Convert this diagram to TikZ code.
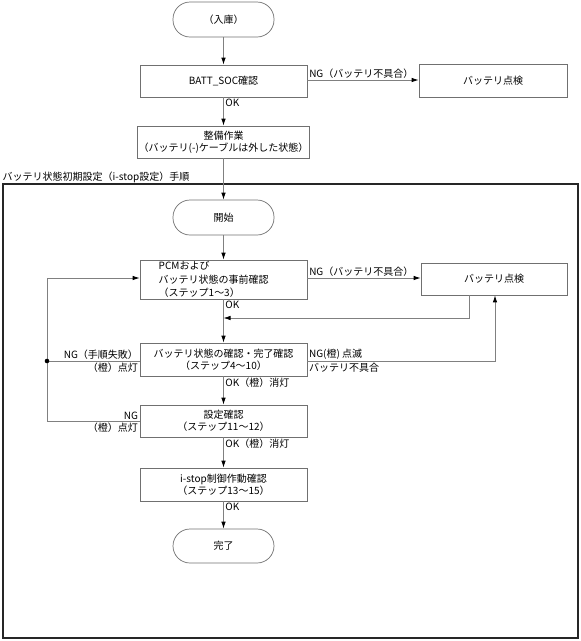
\documentclass[tikz,border=0pt]{standalone}
\usepackage{fontspec}
\setmainfont{Noto Sans CJK JP}
\usetikzlibrary{positioning,arrows.meta}
\definecolor{BoxGray}{HTML}{707070}
\definecolor{LineGray}{HTML}{808080}

\tikzset{
  procbox/.style={draw=BoxGray, line width=0.7pt, minimum width=167pt, minimum height=32pt,
    align=center, inner sep=1pt, font=\fontsize{10}{12}\selectfont},
  termbox/.style={draw=BoxGray, line width=0.7pt, rounded corners=17pt, minimum width=101pt,
    minimum height=35pt, font=\fontsize{10}{12}\selectfont},
  flow/.style={draw=LineGray, line width=0.8pt, -{Latex[length=7pt,width=4.5pt,color=black]}},
  conn/.style={draw=LineGray, line width=0.8pt},
  lbl/.style={font=\fontsize{10}{12}\selectfont, inner sep=1.5pt}
}

\begin{document}
\begin{tikzpicture}[x=1pt, y=-1pt]
    \useasboundingbox (0,0) rectangle (581,641);

    % upper part
    \node[termbox] (nyuko) at (223.5,19.5) {（入庫）};
    \node[procbox] (soc) at (223.5,81) {BATT\_SOC確認};
    \node[procbox, minimum width=148pt, minimum height=33pt] (check1) at (493,80.5) {バッテリ点検};
    \node[procbox] (seibi) at (223.5,142) {整備作業\\（バッテリ(-)ケーブルは外した状態）};

    % frame
    \draw[line width=1.5pt, black!85] (3,184) rectangle (578,638);
    \node[lbl, anchor=south west, inner sep=0.5pt] (framelbl) at (2,183) {バッテリ状態初期設定（i-stop設定）手順};

    % procedure
    \node[termbox] (kaishi) at (223.5,217.5) {開始};
    \node[procbox, minimum height=39pt] (pcm) at (223.5,279.5) {};
    \node[lbl, anchor=west, align=left, font=\fontsize{10}{13.5}\selectfont] (pcmtext) at (157,279.5)
      {PCMおよび\\バッテリ状態の事前確認\\（ステップ1〜3）};
    \node[procbox, minimum width=146pt] (check2) at (494,279) {バッテリ点検};
    \node[procbox, minimum height=33pt] (kakunin) at (223.5,359.5) {バッテリ状態の確認・完了確認\\（ステップ4〜10）};
    \node[procbox] (settei) at (223.5,421) {設定確認\\（ステップ11〜12）};
    \node[procbox, minimum height=33pt] (istop) at (223.5,484.5) {i-stop制御作動確認\\（ステップ13〜15）};
    \node[termbox, minimum height=34pt] (kanryo) at (223.5,546) {完了};

    % helper points
    \coordinate (jn) at (47,361);
    \coordinate (back) at (469,318);

    % main flow
    \draw[flow] (nyuko) -- (soc);
    \draw[flow] (soc.east |- 0,80) -- node[lbl, anchor=south west, pos=0] (ng1) {NG（バッテリ不具合）} (check1.west |- 0,80);
    \draw[flow] (soc) -- node[lbl, anchor=north west, pos=0] (ok1) {OK} (seibi);
    \draw[flow] (seibi) -- (kaishi);
    \draw[flow] (kaishi) -- (pcm);
    \draw[flow] (pcm.east |- 0,278) -- node[lbl, anchor=south west, pos=0] (ng2) {NG（バッテリ不具合）} (check2.west |- 0,278);
    \draw[flow] (pcm) -- node[lbl, anchor=north west, pos=0] (ok2) {OK} (kakunin);
    \draw[flow] (kakunin) -- node[lbl, anchor=north west, pos=0] (ok3) {OK（橙）消灯} (settei);
    \draw[flow] (settei) -- node[lbl, anchor=north west, pos=0] (ok4) {OK（橙）消灯} (istop);
    \draw[flow] (istop) -- node[lbl, anchor=north west, pos=0] (ok5) {OK} (kanryo);

    % return from check2
    \draw[flow] (check2.south -| back) -- (back) -- (pcm.south |- back);

    % NG blink to check2
    \draw[flow] (kakunin.east |- 0,361) -- (495,361) -- (check2.south -| 495,0);
    \node[lbl, anchor=south west] (ngblink) at (kakunin.east |- 0,361) {NG(橙) 点滅};
    \node[lbl, anchor=north west] (battng) at (kakunin.east |- 0,361) {バッテリ不具合};

    % NG loops back to pcm
    \draw[conn] (kakunin.west |- jn) -- (jn);
    \draw[conn] (settei.west |- 0,421) -- (47,421) -- (jn);
    \draw[flow] (jn) -- (47,278) -- (pcm.west |- 0,278);
    \fill[black] (jn) circle (2.3pt);
    \node[lbl, anchor=south east] (ngfail) at (kakunin.west |- jn) {NG（手順失敗）};
    \node[lbl, anchor=north east] (lit1) at (kakunin.west |- jn) {（橙）点灯};
    \node[lbl, anchor=south east] (ng3) at (settei.west |- 0,421) {NG};
    \node[lbl, anchor=north east] (lit2) at (settei.west |- 0,421) {（橙）点灯};
  \end{tikzpicture}
\end{document}
